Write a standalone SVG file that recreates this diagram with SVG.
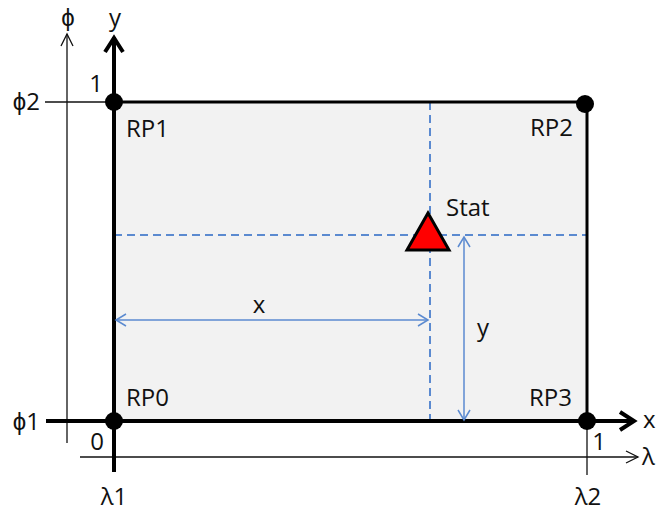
<svg xmlns="http://www.w3.org/2000/svg" width="657" height="513" viewBox="0 0 657 513">
<style>
.t{font-family:"Open Sans","Liberation Sans",sans-serif;font-size:24px;fill:#111}
.thin{stroke:#111;stroke-width:1.3;fill:none}
.thick{stroke:#000;stroke-width:4;fill:none}
.dash{stroke:#5b8ad0;stroke-width:2;stroke-dasharray:8,5;fill:none}
.dim{stroke:#5b8ad0;stroke-width:1.5;fill:none}
.dot{fill:#000}
</style>
<rect x="114" y="102" width="473" height="319" fill="#f2f2f2"/>
<g id="connectors">
<line class="thin" x1="67" y1="34" x2="67" y2="443"/>
<polyline class="thin" points="61,46 67,34 73,46"/>
<line class="thin" x1="80" y1="457" x2="638" y2="457"/>
<polyline class="thin" points="626,451 638,457 626,463"/>
<line class="thin" x1="45" y1="102" x2="114" y2="102"/>
<line class="thin" x1="587" y1="421" x2="587" y2="475"/>
<line class="dash" x1="430" y1="102" x2="430" y2="421"/>
<line class="dash" x1="114" y1="235" x2="587" y2="235"/>
<line class="thick" x1="114" y1="37" x2="114" y2="472"/>
<polyline class="thick" points="105,52 114,38 123,52"/>
<line class="thick" x1="46" y1="421" x2="633" y2="421"/>
<polyline class="thick" points="620,412 634,421 620,430"/>
<line x1="114" y1="102" x2="587" y2="102" stroke="#000" stroke-width="3"/>
<line x1="587" y1="102" x2="587" y2="421" stroke="#000" stroke-width="3"/>
<line class="dim" x1="116" y1="320" x2="428" y2="320"/>
<polyline class="dim" points="126,314 116,320 126,326"/>
<polyline class="dim" points="418,314 428,320 418,326"/>
<line class="dim" x1="464" y1="237" x2="464" y2="420"/>
<polyline class="dim" points="458,247 464,237 470,247"/>
<polyline class="dim" points="458,410 464,420 470,410"/>
</g>
<g id="RP0"><circle class="dot" cx="114" cy="421" r="9"/><text class="t" x="126" y="406">RP0</text></g>
<g id="RP1"><circle class="dot" cx="114" cy="102" r="9"/><text class="t" x="126" y="137">RP1</text></g>
<g id="RP2"><circle class="dot" cx="585" cy="104" r="9"/><text class="t" x="530" y="136">RP2</text></g>
<g id="RP3"><circle class="dot" cx="587" cy="421" r="9"/><text class="t" x="529" y="406">RP3</text></g>
<g id="Stat"><polygon points="428,213 407,250 449,250" fill="#ff0000" stroke="#000" stroke-width="3"/><text class="t" x="446" y="216">Stat</text></g>
<g id="labels">
<text class="t" x="68" y="26" text-anchor="middle">ϕ</text>
<text class="t" x="115" y="26" text-anchor="middle">y</text>
<text class="t" x="96" y="92" text-anchor="middle">1</text>
<text class="t" x="40" y="110" text-anchor="end">ϕ2</text>
<text class="t" x="40" y="430" text-anchor="end">ϕ1</text>
<text class="t" x="97" y="450" text-anchor="middle">0</text>
<text class="t" x="599" y="450" text-anchor="middle">1</text>
<text class="t" x="643" y="428">x</text>
<text class="t" x="642" y="465">λ</text>
<text class="t" x="114" y="505" text-anchor="middle">λ1</text>
<text class="t" x="588" y="505" text-anchor="middle">λ2</text>
<text class="t" x="259" y="313" text-anchor="middle">x</text>
<text class="t" x="483" y="336" text-anchor="middle">y</text>
</g>
</svg>
